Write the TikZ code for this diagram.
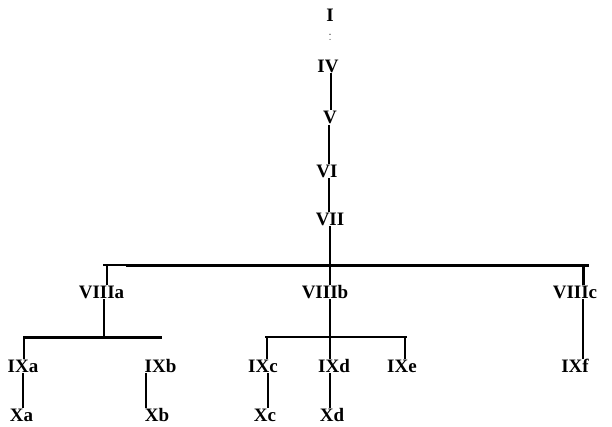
\documentclass[tikz,border=0pt]{standalone}
\usepackage{fontspec}
\setmainfont{Liberation Serif}
\begin{document}
\begin{tikzpicture}[x=1pt,y=-1pt,
  lbl/.style={font=\fontsize{19}{22}\selectfont\bfseries, inner sep=0pt, outer sep=1pt, text height=12.6pt, text depth=0pt},
  lk/.style={line width=2pt, line cap=butt},
  lkthin/.style={line width=1.5pt, line cap=butt},
  lkthick/.style={line width=2.8pt, line cap=butt},
  barline/.style={line width=3pt, line cap=butt}]
\useasboundingbox[fill=white] (0,0) rectangle (612,426);

% labels
\node[lbl] (nI) at (330,15) {I};
\node[lbl] (nIV) at (328,66) {IV};
\node[lbl] (nV) at (330,117.5) {V};
\node[lbl] (nVI) at (327,171) {VI};
\node[lbl] (nVII) at (330,219) {VII};
\node[lbl] (nVIIIa) at (101.5,292) {VIIIa};
\node[lbl] (nVIIIb) at (325,292) {VIIIb};
\node[lbl] (nVIIIc) at (575,292) {VIIIc};
\node[lbl] (nIXa) at (23,366) {IXa};
\node[lbl] (nIXb) at (160.5,366) {IXb};
\node[lbl] (nIXc) at (263,366) {IXc};
\node[lbl] (nIXd) at (334,366) {IXd};
\node[lbl] (nIXe) at (402,366) {IXe};
\node[lbl] (nIXf) at (575,366) {IXf};
\node[lbl] (nXa) at (21.5,415) {Xa};
\node[lbl] (nXb) at (157,415) {Xb};
\node[lbl] (nXc) at (265,415) {Xc};
\node[lbl] (nXd) at (332,415) {Xd};

% bar coordinates
\coordinate (b1L) at (103,265);
\coordinate (b1s) at (126,265);
\coordinate (b1R) at (589,265);
\coordinate (b2L) at (23,337);
\coordinate (b2R) at (162,337);
\coordinate (b3L) at (265,337);
\coordinate (b3R) at (407,337);

% bars
\draw[lk] (b1L) -- (b1s);
\draw[barline] (b1s) -- (b1R);
\draw[barline] (b2L) -- (b2R);
\draw[line width=2.5pt] (b3L) -- (b3R);

% tiny trace under I
\fill ([yshift=-12pt]nI.south) circle (0.6pt);
\fill ([yshift=-17pt]nI.south) circle (0.5pt);

% trunk
\draw[lkthick] ([xshift=3pt]nIV.south) -- ([xshift=1pt]nV.north);
\draw[lk] ([xshift=-1pt]nV.south) -- ([xshift=2pt]nVI.north);
\draw[lk] ([xshift=2pt]nVI.south) -- ([xshift=-1pt]nVII.north);
\draw[lk] (nVII.south) -- (nVII.south |- b1L);

% VIII level
\draw[lk] ([xshift=5.5pt]nVIIIa.north |- b1L) -- ([xshift=5.5pt]nVIIIa.north);
\draw[lk] ([xshift=5pt]nVIIIb.north |- b1L) -- ([xshift=5pt]nVIIIb.north);
\draw[barline] ([xshift=8pt]nVIIIc.north |- b1L) -- ([xshift=8pt]nVIIIc.north);

% below VIIIa
\draw[lk] ([xshift=2.5pt]nVIIIa.south) -- ([xshift=2.5pt]nVIIIa.south |- b2L);
\draw[lk] ([xshift=1pt]nIXa.north |- b2L) -- ([xshift=1pt]nIXa.north);
\draw[lk] (nIXa.south) -- (nIXa.south |- nXa.north);
\draw[lkthin] ([xshift=-14.5pt]nIXb.south) -- ([xshift=-14.5pt]nIXb.south |- nXb.north);

% below VIIIb
\draw[lk] ([xshift=5pt]nVIIIb.south) -- ([xshift=5pt]nVIIIb.south |- b3L);
\draw[lk] ([xshift=4pt]nIXc.north |- b3L) -- ([xshift=4pt]nIXc.north);
\draw[lk] ([xshift=-4pt]nIXd.north |- b3L) -- ([xshift=-4pt]nIXd.north);
\draw[lk] ([xshift=3pt]nIXe.north |- b3L) -- ([xshift=3pt]nIXe.north);
\draw[lk] ([xshift=5pt]nIXc.south) -- ([xshift=5pt]nIXc.south |- nXc.north);
\draw[lkthick] ([xshift=-4pt]nIXd.south) -- ([xshift=-4pt]nIXd.south |- nXd.north);

% below VIIIc
\draw[lkthin] ([xshift=8pt]nVIIIc.south) -- ([xshift=8pt]nVIIIc.south |- nIXf.north);
\end{tikzpicture}
\end{document}
